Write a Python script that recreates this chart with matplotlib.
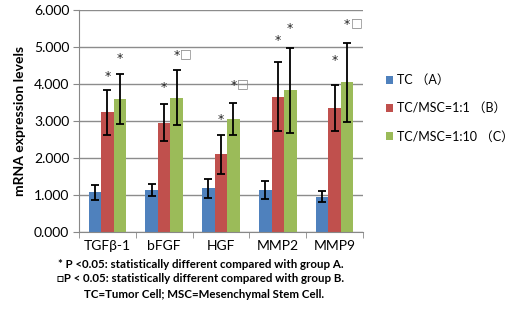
import numpy as np
import matplotlib
matplotlib.use('Agg')
import matplotlib.pyplot as plt

categories = ['TGFβ-1', 'bFGF', 'HGF', 'MMP2', 'MMP9']
series_names = ['TC （A）', 'TC/MSC=1:1 （B）', 'TC/MSC=1:10 （C）']
tc = [1.07, 1.12, 1.17, 1.12, 0.95]
tc_err = [0.20, 0.16, 0.25, 0.24, 0.16]
msc_1 = [3.23, 2.95, 2.09, 3.66, 3.35]
msc_1_err = [0.60, 0.50, 0.52, 0.94, 0.62]
msc_10 = [3.60, 3.63, 3.05, 3.83, 4.04]
msc_10_err = [0.68, 0.74, 0.44, 1.15, 1.08]
# significance marks for groups B and C, with their heights
marks_b = ['*', '*', '*', '*', '*']
marks_b_y = [4.20, 3.90, 3.04, 5.18, 4.63]
marks_c = ['*', '*□', '*□', '*', '*□']
marks_c_y = [4.69, 4.77, 3.96, 5.50, 5.60]

colors = ['#4F81BD', '#C0504D', '#9BBB59']
plt.rcParams['font.family'] = ['Lato', 'Noto Sans CJK SC', 'DejaVu Sans']

fig = plt.figure(figsize=(5.23, 3.16), dpi=100)
ax = fig.add_axes([0.151, 0.267, 0.543, 0.701])

x = np.arange(len(categories))
w = 0.22
for i, (vals, errs) in enumerate([(tc, tc_err), (msc_1, msc_1_err), (msc_10, msc_10_err)]):
    ax.bar(x + (i - 1) * w, vals, w, color=colors[i], label=series_names[i], zorder=2)
    ax.errorbar(x + (i - 1) * w, vals, yerr=errs, fmt='none', ecolor='black',
                elinewidth=1.3, capsize=3, capthick=1.3, zorder=3)

# significance marks
for j in range(len(categories)):
    ax.text(x[j], marks_b_y[j], marks_b[j], ha='center', va='center', fontsize=9,
            family=['DejaVu Sans'], color='#222222')
    ax.text(x[j] + w, marks_c_y[j], '*', ha='center', va='center', fontsize=9,
            family=['DejaVu Sans'], color='#222222')
    if '□' in marks_c[j]:
        ax.text(x[j] + w + 0.06, marks_c_y[j] + 0.05, '□', ha='left', va='center',
                fontsize=9, family=['DejaVu Sans'], color='#888888')

ax.set_xlim(-0.5, len(categories) - 0.5)
ax.set_ylim(0, 6)
ax.set_yticks(np.arange(0, 7, 1))
ax.set_yticklabels(['%.3f' % v for v in np.arange(0, 7, 1)], fontsize=10)
ax.set_xticks(x)
ax.set_xticklabels(categories, fontsize=10)
ax.set_xticks(np.arange(-0.5, len(categories), 1), minor=True)
ax.tick_params(axis='x', which='major', length=0, pad=6)
ax.tick_params(axis='x', which='minor', length=4, color='#888888')
ax.tick_params(axis='y', length=4, color='#888888', pad=3)
ax.yaxis.grid(True, color='#8c8c8c', linewidth=1, zorder=0)
ax.set_axisbelow(True)
for s in ['top', 'right']:
    ax.spines[s].set_visible(False)
for s in ['left', 'bottom']:
    ax.spines[s].set_color('#888888')
ax.set_ylabel('mRNA expression levels', fontsize=10, fontweight='bold', labelpad=6)

ax.legend(loc='center left', bbox_to_anchor=(1.08, 0.557), frameon=False, fontsize=9,
          handlelength=0.6, handleheight=0.6, handletextpad=0.3, labelspacing=1.3,
          borderpad=0, borderaxespad=0)

notes = ['* P <0.05: statistically different compared with group A.',
         '□P < 0.05: statistically different compared with group B.',
         'TC=Tumor Cell; MSC=Mesenchymal Stem Cell.']
fig.text(58 / 523, 1 - 265 / 316, notes[0], fontsize=8.3, fontweight='bold', va='center')
fig.text(57 / 523, 1 - 279 / 316, notes[1], fontsize=8.3, fontweight='bold', va='center')
fig.text(84 / 523, 1 - 294 / 316, notes[2], fontsize=8.3, fontweight='bold', va='center')

fig.savefig('out.png', dpi=100)
